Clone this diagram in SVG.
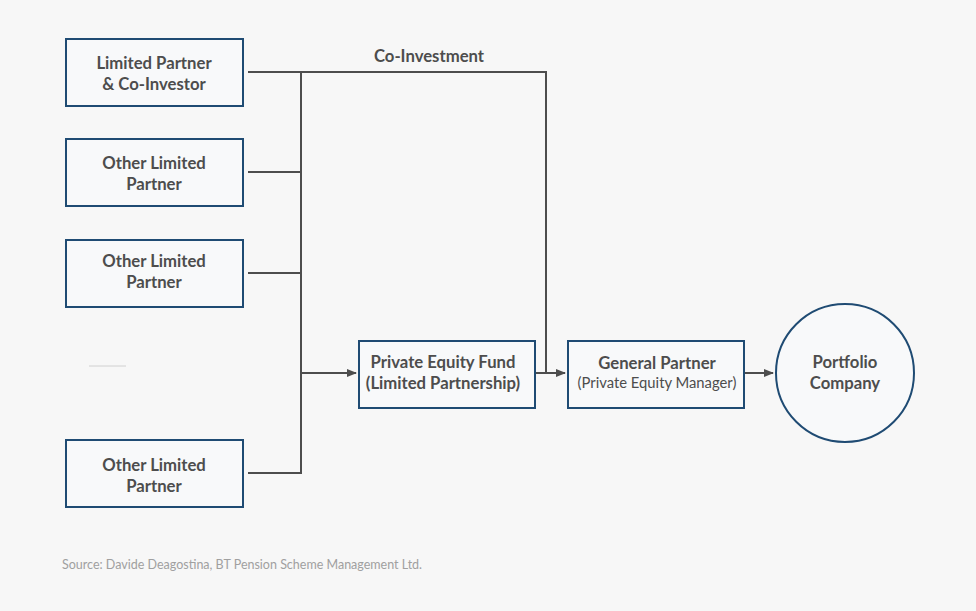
<svg xmlns="http://www.w3.org/2000/svg" width="976" height="611" viewBox="0 0 976 611">
<style>
.box{fill:#f8f9fa;stroke:#1f4b73;stroke-width:2}
.t{font-family:Lato,"Liberation Sans",sans-serif;font-size:16.7px;font-weight:700;fill:#4d4d4d;text-anchor:middle}
.s{font-family:Lato,"Liberation Sans",sans-serif;font-size:14.8px;font-weight:400;fill:#4d4d4d;text-anchor:middle}
.ln{fill:none;stroke:#4d4d4d;stroke-width:2}
</style>
<defs>
<marker id="ah" markerWidth="10" markerHeight="8" refX="9" refY="4" orient="auto" markerUnits="userSpaceOnUse">
<path d="M0,0 L10,4 L0,8 Z" fill="#4d4d4d"/>
</marker>
</defs>
<rect width="976" height="611" fill="#f7f7f7"/>
<g id="connectors">
<path class="ln" d="M248,72 H546 V373 H565" marker-end="url(#ah)"/>
<path class="ln" d="M248,172 H301"/>
<path class="ln" d="M248,273 H301"/>
<path class="ln" d="M248,473 H301 V72"/>
<path class="ln" d="M301,373 H356" marker-end="url(#ah)"/>
<path class="ln" d="M536,373 H546"/>
<path class="ln" d="M745,373 H773" marker-end="url(#ah)"/>
<text class="t" x="429" y="62">Co-Investment</text>
</g>
<g id="lp1"><rect class="box" x="66" y="39" width="177" height="67"/><text class="t" x="154" y="69">Limited Partner</text><text class="t" x="154" y="90">&amp; Co-Investor</text></g>
<g id="lp2"><rect class="box" x="66" y="139" width="177" height="67"/><text class="t" x="154" y="169">Other Limited</text><text class="t" x="154" y="190">Partner</text></g>
<g id="lp3"><rect class="box" x="66" y="240" width="177" height="67"/><text class="t" x="154" y="267">Other Limited</text><text class="t" x="154" y="288">Partner</text></g>
<g id="dash"><line x1="89" y1="366" x2="126" y2="366" stroke="#d0d0d0" stroke-width="1"/></g>
<g id="lp4"><rect class="box" x="66" y="440" width="177" height="67"/><text class="t" x="154" y="471">Other Limited</text><text class="t" x="154" y="492">Partner</text></g>
<g id="fund"><rect class="box" x="359" y="341" width="176" height="67"/><text class="t" x="443" y="368">Private Equity Fund</text><text class="t" x="443" y="389">(Limited Partnership)</text></g>
<g id="gp"><rect class="box" x="568" y="341" width="176" height="67"/><text class="t" x="657" y="369">General Partner</text><text class="s" x="657" y="388">(Private Equity Manager)</text></g>
<g id="pc"><circle class="box" cx="845" cy="373" r="69"/><text class="t" x="845" y="368">Portfolio</text><text class="t" x="845" y="389">Company</text></g>
<text x="62" y="569" font-family="Lato,'Liberation Sans',sans-serif" font-size="12.5" fill="#a0a0a0">Source: Davide Deagostina, BT Pension Scheme Management Ltd.</text>
</svg>
